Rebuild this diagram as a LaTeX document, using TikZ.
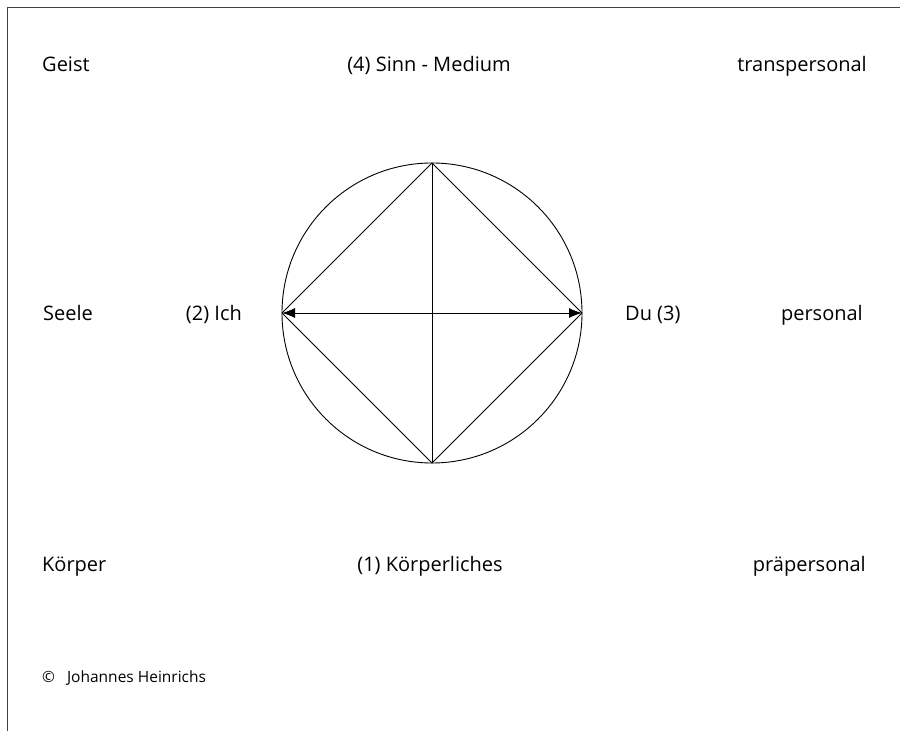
\documentclass[tikz,border=0pt]{standalone}
\usepackage{fontspec}
\setmainfont{Open Sans}
\usetikzlibrary{arrows.meta}
\begin{document}
\begin{tikzpicture}[x=1pt,y=1pt,
  lbl/.style={inner sep=0pt,font=\fontsize{20}{22}\selectfont},
  ln/.style={line width=0.9pt,black}]
\useasboundingbox (0,0) rectangle (900,731);
% frame (left and top)
\draw[line width=1pt,black!75] (7.5,0) -- (7.5,723) -- (900,723);
% circle and diamond
\coordinate (C) at (432,418);
\node[circle,draw,line width=0.9pt,minimum size=300pt,inner sep=0pt] (circ) at (C) {};
\coordinate (T) at (432,568);
\coordinate (B) at (432,268);
\coordinate (L) at (282,418);
\coordinate (R) at (582,418);
\draw[ln] (T) -- (L) -- (B) -- (R) -- cycle;
\draw[ln] (T) -- (B);
\draw[ln,{Latex[length=13pt,width=10pt]}-{Latex[length=13pt,width=10pt]}] (L) -- (R);
% labels
\node[lbl,anchor=base west] (geist) at (42,659) {Geist};
\node[lbl,anchor=base] (sinn) at (429,659) {(4) Sinn - Medium};
\node[lbl,anchor=base east] (trans) at (867,659) {transpersonal};
\node[lbl,anchor=base west] (seele) at (43,410) {Seele};
\node[lbl,anchor=base east] (ich) at (242,410) {(2) Ich};
\node[lbl,anchor=base west] (du) at (625,410) {Du (3)};
\node[lbl,anchor=base east] (pers) at (863,410) {personal};
\node[lbl,anchor=base west] (koerper) at (42,159) {Körper};
\node[lbl,anchor=base] (koerpl) at (430,159) {(1) Körperliches};
\node[lbl,anchor=base east] (praep) at (866,159) {präpersonal};
\node[lbl,anchor=base west,font=\fontsize{15.5}{18}\selectfont] (copy) at (42,48) {©\hspace{12pt}Johannes Heinrichs};
\end{tikzpicture}
\end{document}
